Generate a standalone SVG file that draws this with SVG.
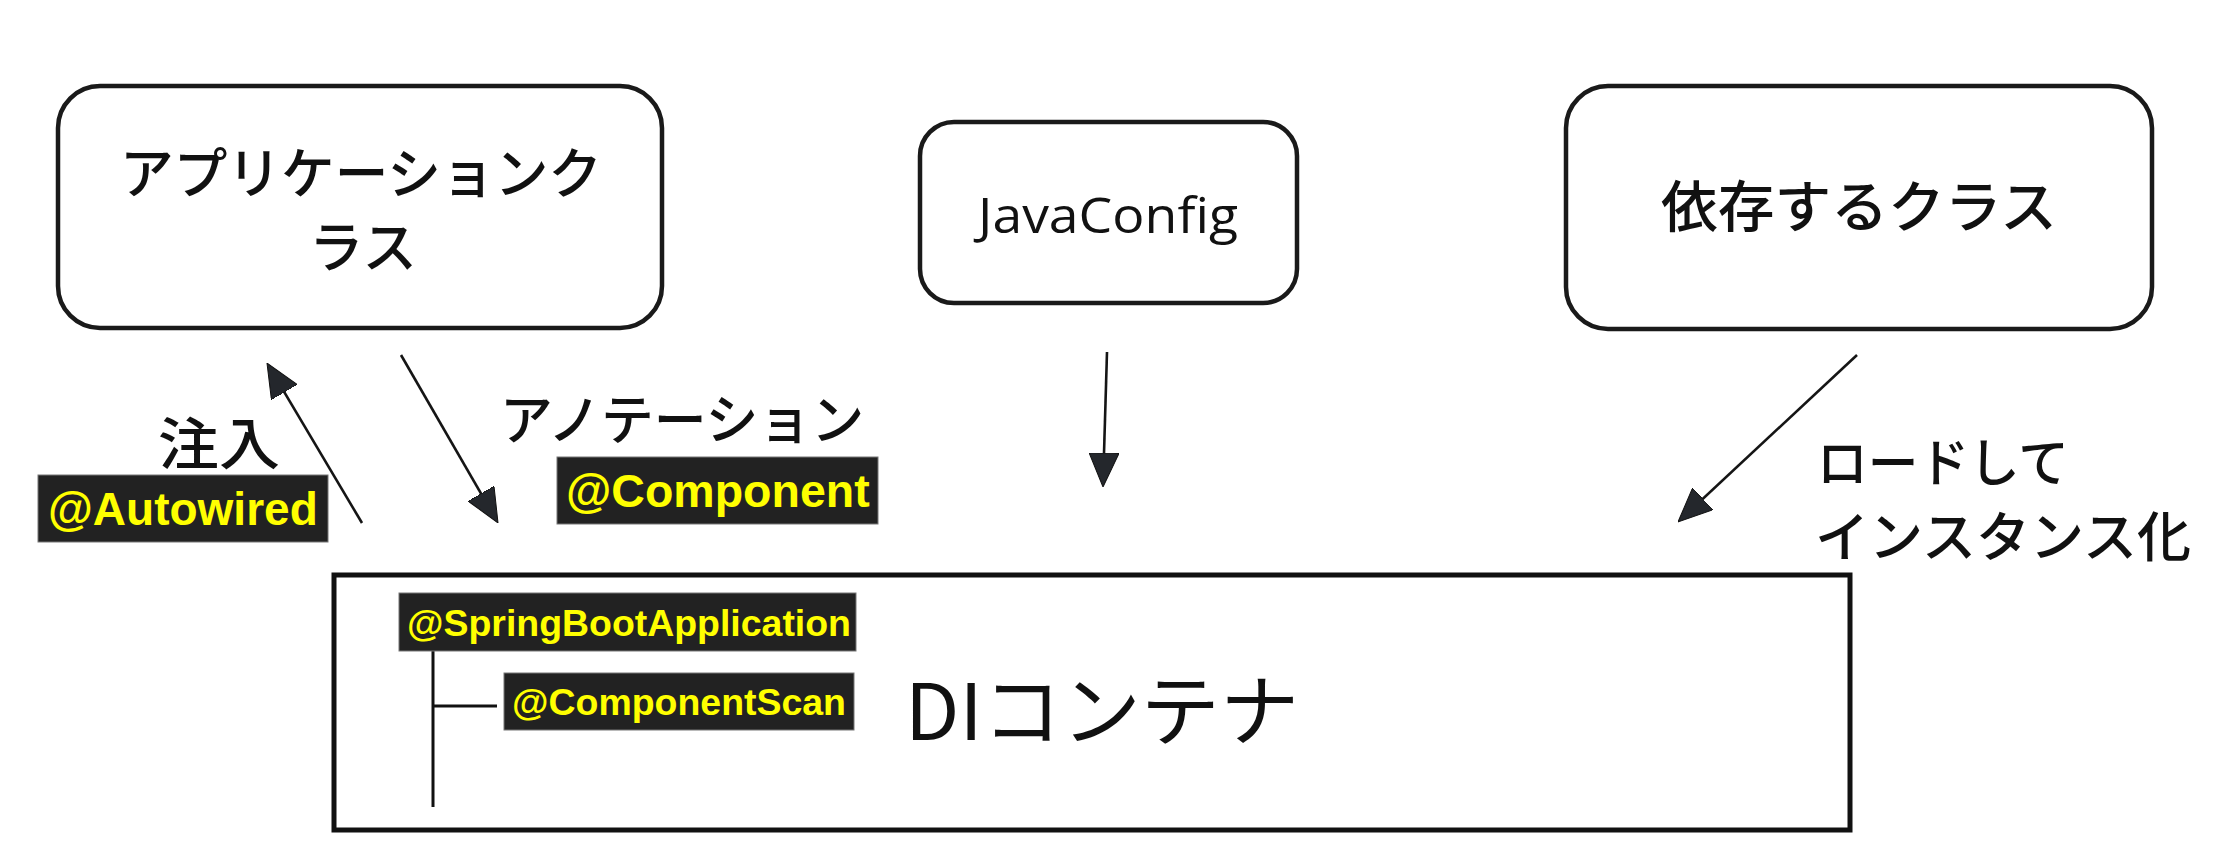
<svg xmlns="http://www.w3.org/2000/svg" width="2214" height="868" viewBox="0 0 2214 868">
  <style>
    .box { fill: #ffffff; stroke: #1a1a1a; stroke-width: 4.5; }
    .jp { font-family: "Noto Sans CJK JP", "Noto Sans", sans-serif; font-weight: 500; fill: #111111; }
    .jp.title { font-weight: 400; }
    .lat { font-family: "Open Sans", "Liberation Sans", sans-serif; fill: #111111; }
    .tagbg { fill: #222222; stroke: #777777; stroke-width: 1; }
    .tag { font-family: "Liberation Sans", Arial, sans-serif; font-weight: bold; fill: #ffff00; }
    .edge { stroke: #151515; stroke-width: 2.6; fill: none; marker-end: url(#head); }
    .tree { stroke: #111111; stroke-width: 3; fill: none; }
  </style>
  <defs>
    <marker id="head" viewBox="0 0 34 30" refX="24" refY="15" markerWidth="34" markerHeight="30" markerUnits="userSpaceOnUse" orient="auto">
      <path d="M0,0 L34,15 L0,30 Z" fill="#24272c" stroke="#111111" stroke-width="1"/>
    </marker>
  </defs>
  <rect width="2214" height="868" fill="#ffffff"/>

  <!-- application class -->
  <g id="app-class">
    <rect class="box" x="58" y="86" width="604" height="242" rx="42" ry="42"/>
    <text class="jp" x="120" y="193" font-size="55" textLength="482" lengthAdjust="spacingAndGlyphs">アプリケーションク</text>
    <text class="jp" x="309" y="267" font-size="55" textLength="108" lengthAdjust="spacingAndGlyphs">ラス</text>
  </g>

  <!-- JavaConfig -->
  <g id="java-config">
    <rect class="box" x="920" y="122" width="377" height="181" rx="34" ry="34"/>
    <text class="lat" x="978" y="233" font-size="50" textLength="260" lengthAdjust="spacingAndGlyphs">JavaConfig</text>
  </g>

  <!-- dependent class -->
  <g id="dependent-class">
    <rect class="box" x="1566" y="86" width="586" height="243" rx="42" ry="42"/>
    <text class="jp" x="1661" y="227" font-size="56" textLength="396" lengthAdjust="spacingAndGlyphs">依存するクラス</text>
  </g>

  <!-- DI container -->
  <g id="di-container">
    <rect x="334" y="575" width="1516" height="255" fill="#ffffff" stroke="#111111" stroke-width="5"/>
    <text class="jp title" x="905" y="740" font-size="78" textLength="394" lengthAdjust="spacingAndGlyphs">DIコンテナ</text>
    <path class="tree" d="M433,650 V807 M433,706 H497"/>
    <g id="tag-springboot">
      <rect class="tagbg" x="399" y="593" width="457" height="58"/>
      <text class="tag" x="407" y="636" font-size="37" textLength="444" lengthAdjust="spacingAndGlyphs">@SpringBootApplication</text>
    </g>
    <g id="tag-componentscan">
      <rect class="tagbg" x="504" y="673" width="350" height="57"/>
      <text class="tag" x="512" y="715" font-size="37" textLength="334" lengthAdjust="spacingAndGlyphs">@ComponentScan</text>
    </g>
  </g>

  <!-- connectors -->
  <g id="connectors">
    <line class="edge" x1="362" y1="523" x2="272.1" y2="371.6"/>
    <line class="edge" x1="401" y1="355" x2="493" y2="514.3"/>
    <line class="edge" x1="1107" y1="352" x2="1103.3" y2="477"/>
    <line class="edge" x1="1857" y1="355" x2="1685.3" y2="515.2"/>
  </g>

  <!-- connector labels -->
  <g id="label-inject">
    <text class="jp" x="158" y="464" font-size="56" textLength="122" lengthAdjust="spacingAndGlyphs">注入</text>
    <rect class="tagbg" x="38" y="475" width="290" height="67"/>
    <text class="tag" x="48" y="525" font-size="46">@Autowired</text>
  </g>
  <g id="label-annotation">
    <text class="jp" x="500" y="440" font-size="54" textLength="364" lengthAdjust="spacingAndGlyphs">アノテーション</text>
    <rect class="tagbg" x="557" y="457" width="321" height="67"/>
    <text class="tag" x="566" y="507" font-size="46.5">@Component</text>
  </g>
  <g id="label-load">
    <text class="jp" x="1817" y="482" font-size="52" textLength="252" lengthAdjust="spacingAndGlyphs">ロードして</text>
    <text class="jp" x="1815" y="557" font-size="54" textLength="376" lengthAdjust="spacingAndGlyphs">インスタンス化</text>
  </g>
</svg>
